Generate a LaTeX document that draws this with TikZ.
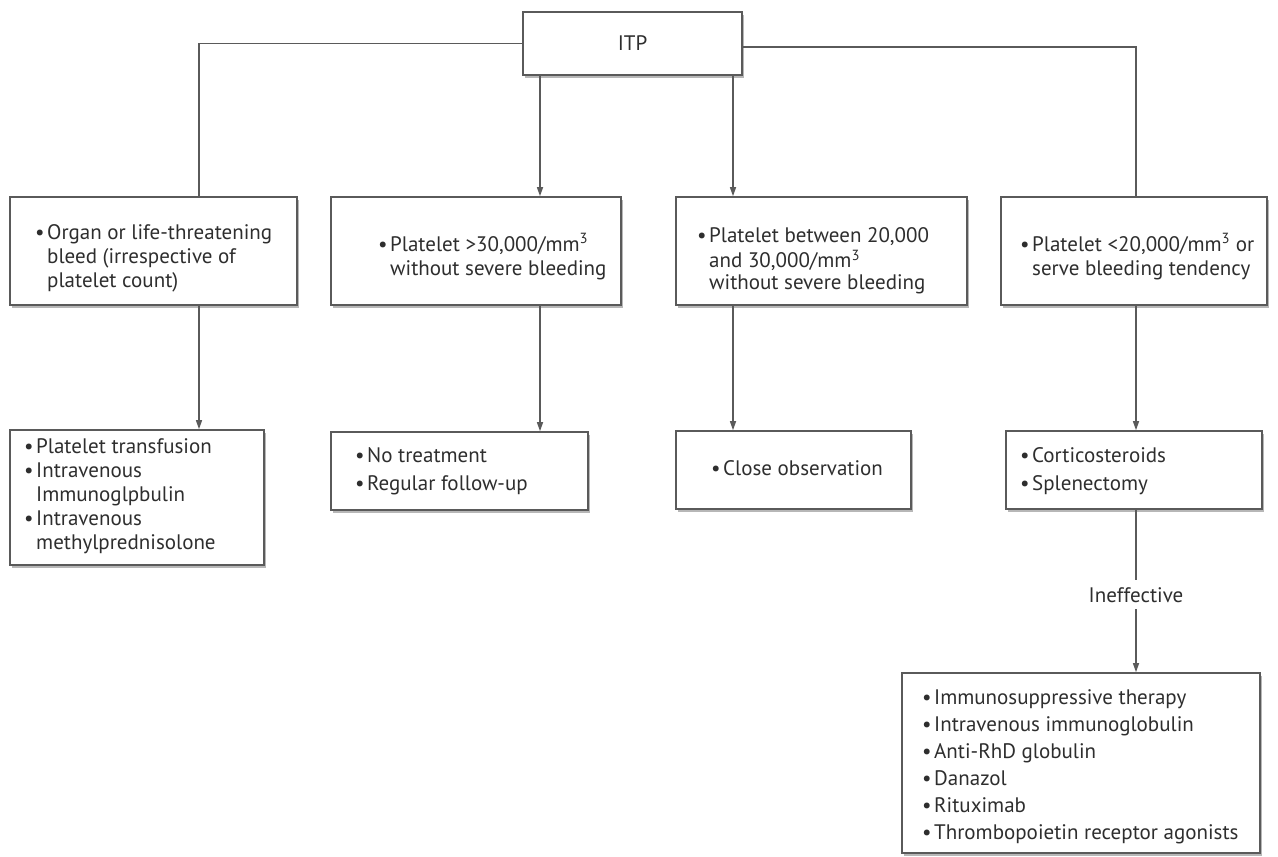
\documentclass[tikz,border=0pt]{standalone}
\usepackage{fontspec}
\setmainfont{PT Sans}
\usetikzlibrary{arrows.meta,shadows}
\definecolor{ink}{HTML}{2E2E2E}
\definecolor{rule}{HTML}{5A5A5A}
% bullet item and its continuation line (hanging indent)
\newcommand{\itm}[1]{\strut\makebox[12pt][l]{•}#1}
\newcommand{\cnt}[1]{\strut\hspace*{12pt}#1}
\begin{document}
\begin{tikzpicture}[x=1pt,y=-1pt,
  box/.style={draw=rule, line width=1.6pt, fill=white, inner sep=0pt,
    drop shadow={shadow xshift=2pt,shadow yshift=-2.5pt,fill=black!40,opacity=0.7}},
  lbl/.style={text=ink, inner sep=0pt, align=left, anchor=west,
    font=\fontsize{21}{24}\selectfont},
  ln/.style={draw=rule, line width=1.3pt},
  arr/.style={ln, -{Triangle[length=9pt,width=6pt]}},
]
\useasboundingbox[fill=white] (0,0) rectangle (1278,857);

% column positions of the vertical connectors
\coordinate (c1) at (199,0);
\coordinate (c2) at (540,0);
\coordinate (c3) at (733,0);
\coordinate (c4) at (1136,0);

% root
\node[box, minimum width=219pt, minimum height=63pt, text=ink,
  font=\fontsize{21}{24}\selectfont] (itp) at (632.5,43.5) {ITP};

% conditions
\node[box, minimum width=287pt, minimum height=108pt] (b1) at (153.5,251) {};
\node[box, minimum width=290pt, minimum height=108pt] (b2) at (476,251) {};
\node[box, minimum width=291pt, minimum height=108pt] (b3) at (821.5,251) {};
\node[box, minimum width=266pt, minimum height=108pt] (b4) at (1134,251) {};

\node[lbl] (tb1) at (35,259) {\itm{Organ or life-threatening}\\\cnt{bleed (irrespective of}\\\cnt{platelet count)}};
\node[lbl] (tb2) at (378,258) {\itm{Platelet >30,000/mm\textsuperscript{3}}\\\cnt{without severe bleeding}};
\node[lbl, font=\fontsize{21}{20.5}\selectfont] (tb3) at (697,262) {\itm{Platelet between 20,000}\\\cnt{and 30,000/mm\textsuperscript{3}}\\\cnt{without severe bleeding}};
\node[lbl] (tb4) at (1020,258) {\itm{Platelet <20,000/mm\textsuperscript{3} or}\\\cnt{serve bleeding tendency}};

% management
\node[box, minimum width=254pt, minimum height=135pt] (d1) at (137,497.5) {};
\node[box, minimum width=257pt, minimum height=78pt] (d2) at (459.5,471) {};
\node[box, minimum width=235pt, minimum height=78pt] (d3) at (793.5,470) {};
\node[box, minimum width=256pt, minimum height=78pt] (d4) at (1134,470) {};

\node[lbl] (td1) at (24,497) {\itm{Platelet transfusion}\\\itm{Intravenous}\\\cnt{Immunoglpbulin}\\\itm{Intravenous}\\\cnt{methylprednisolone}};
\node[lbl, font=\fontsize{21}{28}\selectfont] (td2) at (355,471) {\itm{No treatment}\\\itm{Regular follow-up}};
\node[lbl] (td3) at (711,471) {\itm{Close observation}};
\node[lbl, font=\fontsize{21}{28}\selectfont] (td4) at (1020,471) {\itm{Corticosteroids}\\\itm{Splenectomy}};

% second line of treatment
\node[box, minimum width=358pt, minimum height=180pt] (fin) at (1081,763) {};
\node[lbl, font=\fontsize{21}{27}\selectfont] (tfin) at (922,767) {\itm{Immunosuppressive therapy}\\\itm{Intravenous immunoglobulin}\\\itm{Anti-RhD globulin}\\\itm{Danazol}\\\itm{Rituximab}\\\itm{Thrombopoietin receptor agonists}};

% connectors from the root
\draw[ln] (itp.west) -| (b1.north -| c1);
\draw[arr] (itp.south -| c2) -- (b2.north -| c2);
\draw[arr] (itp.south -| c3) -- (b3.north -| c3);
\draw[ln] ([yshift=-3.5pt]itp.east) -| (b4.north -| c4);

% conditions to management
\draw[arr] (b1.south -| c1) -- (d1.north -| c1);
\draw[arr] (b2.south -| c2) -- (d2.north -| c2);
\draw[arr] (b3.south -| c3) -- (d3.north -| c3);
\draw[arr] (b4.south -| c4) -- (d4.north -| c4);

% failure of first line
\draw[arr] (d4.south -| c4) -- node[pos=0.524, fill=white, text=ink, inner xsep=2pt, inner ysep=7pt,
  font=\fontsize{21}{24}\selectfont] (ineff) {Ineffective} (fin.north -| c4);
\end{tikzpicture}
\end{document}
